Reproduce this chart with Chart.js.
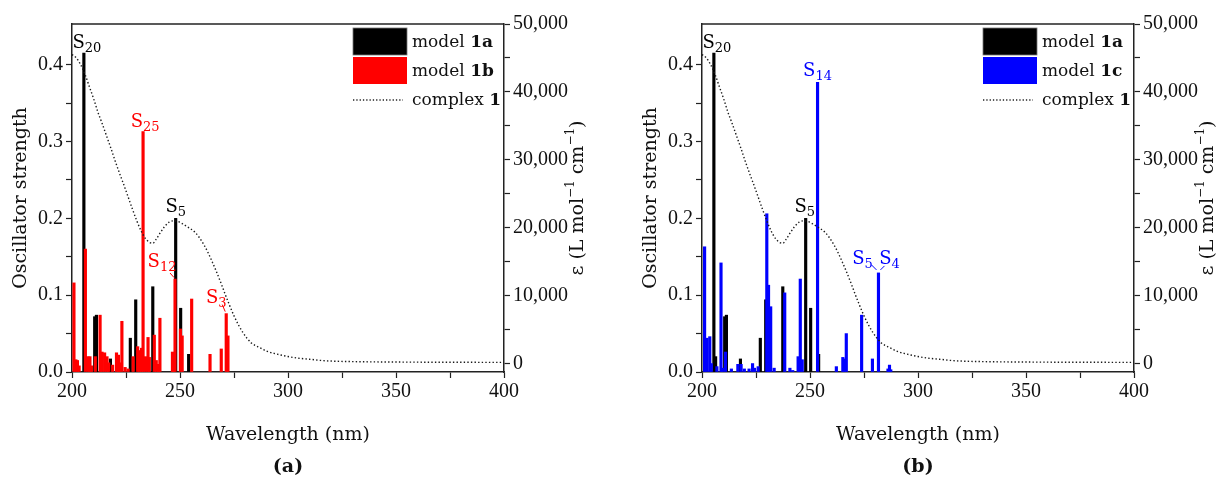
<!DOCTYPE html>
<html>
<head>
<meta charset="utf-8">
<title>Calculated oscillator strengths vs. experimental spectrum</title>
<script src="https://cdn.jsdelivr.net/npm/chart.js@4.4.1/dist/chart.umd.min.js"></script>
<style>
    body { margin: 0; background: #fff; }
    #wrap { position: relative; width: 1218px; height: 480px; overflow: hidden; }
    #wrap canvas { position: absolute; top: 0; }
    #chartA { left: 0; }
    #chartB { left: 630px; }
    .panel { position: absolute; top: 454px; width: 60px; text-align: center; font: bold 19px "DejaVu Serif", serif; color: #111; }
</style>
</head>
<body>
<div id="wrap">
    <canvas id="chartA" width="588" height="480"></canvas>
    <canvas id="chartB" width="588" height="480"></canvas>
    <div class="panel" style="left:258px">(a)</div>
    <div class="panel" style="left:888px">(b)</div>
</div>
<script>
// axis ticks
const wavelengthTicks = [200, 225, 250, 275, 300, 325, 350, 375, 400];
const strengthTicks = [0, 0.05, 0.1, 0.15, 0.2, 0.25, 0.3, 0.35, 0.4];
const epsilonTicks = [0, 5000, 10000, 15000, 20000, 25000, 30000, 35000, 40000, 45000, 50000];

// model 1a (black sticks, both panels)
const model1aNm = [205.5, 206.3, 210.5, 211.3, 217.8, 227.0, 229.5, 237.4, 248.0, 250.3, 254.0];
const model1aF  = [0.415, 0.020, 0.072, 0.074, 0.017, 0.044, 0.094, 0.111, 0.200, 0.083, 0.023];

// model 1b (red sticks, panel a)
const model1bNm = [200.9, 201.8, 202.5, 203.3, 206.2, 207.4, 208.3, 209.0, 210.8, 213.0, 213.9, 215.1,
    216.2, 217.0, 218.8, 220.6, 221.5, 222.1, 223.1, 224.6, 226.0, 228.3, 230.4, 231.2, 232.2, 232.9,
    234.0, 235.2, 235.8, 238.1, 239.0, 240.0, 240.7, 246.5, 247.0, 247.7, 250.2, 251.0, 255.4, 263.9,
    269.1, 271.4, 272.2];
const model1bF  = [0.116, 0.016, 0.015, 0.008, 0.160, 0.020, 0.020, 0.008, 0.020, 0.074, 0.026, 0.025,
    0.020, 0.012, 0.009, 0.025, 0.022, 0.012, 0.066, 0.006, 0.004, 0.020, 0.033, 0.028, 0.031, 0.313,
    0.020, 0.045, 0.019, 0.048, 0.015, 0.010, 0.070, 0.026, 0.025, 0.121, 0.056, 0.047, 0.095, 0.023,
    0.030, 0.076, 0.047];

// model 1c (blue sticks, panel b)
const model1cNm = [201.2, 202.3, 203.6, 204.3, 206.9, 208.8, 209.6, 210.9, 213.6, 216.6, 218.1, 219.6,
    221.8, 223.4, 224.3, 226.0, 230.0, 230.8, 231.8, 233.4, 238.3, 240.7, 242.0, 244.5, 245.5, 246.4,
    253.5, 262.2, 265.2, 265.9, 266.8, 273.9, 278.9, 281.7, 286.1, 286.8, 287.4];
const model1cF  = [0.163, 0.044, 0.046, 0.011, 0.007, 0.142, 0.005, 0.026, 0.004, 0.010, 0.010, 0.004,
    0.004, 0.011, 0.005, 0.007, 0.206, 0.113, 0.085, 0.005, 0.103, 0.005, 0.002, 0.020, 0.121, 0.016,
    0.377, 0.007, 0.019, 0.017, 0.050, 0.074, 0.017, 0.129, 0.004, 0.009, 0.003];

// complex 1, experimental epsilon (dotted)
const complexNm  = [200, 202, 204, 206, 208, 210, 212, 214, 216, 218, 220, 222, 224, 226, 228, 230,
    232, 234, 236, 237.5, 239, 241, 243, 245, 247, 249, 251, 253, 255, 257, 259, 261, 263, 265, 267,
    269, 271, 273, 275, 277, 279, 281, 283, 285, 287, 290, 295, 300, 305, 310, 315, 320, 330, 340,
    360, 380, 400];
const complexEps = [45500, 45000, 44000, 42600, 40800, 39000, 37000, 35300, 33500, 31700, 29800, 28000,
    26300, 24500, 22700, 21000, 19500, 18400, 17800, 17700, 18300, 19300, 20200, 20800, 21000, 20900,
    20600, 20200, 19800, 19300, 18500, 17500, 16300, 14900, 13400, 11800, 10100, 8500, 7000, 5700,
    4600, 3700, 3000, 2600, 2300, 1800, 1350, 1000, 750, 600, 430, 330, 250, 210, 170, 150, 140];

const BLACK = '#000000';
const RED = '#ff0000';
const BLUE = '#0000ff';
const AXIS = '#222222';

function peak(nmArr, fArr, nm) {
    return { x: nm, y: fArr[nmArr.indexOf(nm)] };
}

function sticks(nm, f) {
    return nm.map((x, i) => ({ x: x, y: f[i] }));
}

const annotationsA = [
    { at: peak(model1aNm, model1aF, 205.5), sub: '20', color: BLACK, dx: 3, dy: -5 },
    { at: peak(model1bNm, model1bF, 232.9), sub: '25', color: RED, dx: 2, dy: -5 },
    { at: peak(model1aNm, model1aF, 248.0), sub: '5', color: BLACK, dx: 0, dy: -6 },
    { at: peak(model1bNm, model1bF, 247.7), sub: '12', color: RED, dx: -13, dy: -12, leader: [-5, -6, -1, -1.5] },
    { at: peak(model1bNm, model1bF, 271.4), sub: '3', color: RED, dx: -10, dy: -11, leader: [-4, -9, -1, -2] }
];
const annotationsB = [
    { at: peak(model1aNm, model1aF, 205.5), sub: '20', color: BLACK, dx: 3, dy: -5 },
    { at: peak(model1cNm, model1cF, 253.5), sub: '14', color: BLUE, dx: 0, dy: -6 },
    { at: peak(model1aNm, model1aF, 248.0), sub: '5', color: BLACK, dx: -1, dy: -6 },
    { at: peak(model1cNm, model1cF, 281.7), sub: '5', color: BLUE, dx: -16, dy: -9, leader: [-7, -8, -2, -3] },
    { at: peak(model1cNm, model1cF, 281.7), sub: '4', color: BLUE, dx: 11, dy: -9, leader: [2, -3, 6, -7] }
];

function drawState(ctx, cx, baseY, sub, color) {
    ctx.save();
    ctx.fillStyle = color;
    ctx.textBaseline = 'alphabetic';
    ctx.textAlign = 'left';
    ctx.font = '18px "DejaVu Serif"';
    const wS = ctx.measureText('S').width;
    ctx.font = '13px "DejaVu Serif"';
    const wSub = ctx.measureText(sub).width;
    const x0 = cx - (wS + wSub) / 2;
    ctx.font = '18px "DejaVu Serif"';
    ctx.fillText('S', x0, baseY);
    ctx.font = '13px "DejaVu Serif"';
    ctx.fillText(sub, x0 + wS, baseY + 4);
    ctx.restore();
}

function drawRich(ctx, x, y, parts) {
    // parts: [text, bold]
    let cx = x;
    parts.forEach(p => {
        ctx.font = (p[1] ? 'bold ' : '') + '17px "DejaVu Serif"';
        ctx.fillText(p[0], cx, y);
        cx += ctx.measureText(p[0]).width;
    });
}

function decorPlugin(legendColor, legendBold, annotations) {
    return {
        id: 'decor',
        afterDatasetsDraw(chart) {
            const ctx = chart.ctx;
            const area = chart.chartArea;
            const xs = chart.scales.x;
            const ys = chart.scales.y;

            // top frame line
            ctx.save();
            ctx.strokeStyle = AXIS;
            ctx.lineWidth = 1.5;
            ctx.beginPath();
            ctx.moveTo(area.left, area.top);
            ctx.lineTo(area.right, area.top);
            ctx.stroke();
            ctx.restore();

            // state labels
            annotations.forEach(a => {
                const px = xs.getPixelForValue(a.at.x);
                const py = ys.getPixelForValue(a.at.y);
                drawState(ctx, px + a.dx, py + a.dy, a.sub, a.color);
                if (a.leader) {
                    ctx.save();
                    ctx.strokeStyle = a.color;
                    ctx.lineWidth = 1;
                    ctx.beginPath();
                    ctx.moveTo(px + a.leader[0], py + a.leader[1]);
                    ctx.lineTo(px + a.leader[2], py + a.leader[3]);
                    ctx.stroke();
                    ctx.restore();
                }
            });

            // legend
            const lx = area.right - 151;
            const ly = area.top;
            ctx.save();
            ctx.fillStyle = BLACK;
            ctx.fillRect(lx, ly + 4, 54, 27);
            ctx.strokeStyle = '#777';
            ctx.lineWidth = 0.8;
            ctx.strokeRect(lx, ly + 4, 54, 27);
            ctx.fillStyle = legendColor;
            ctx.fillRect(lx, ly + 33, 54, 27);
            ctx.strokeStyle = '#222';
            ctx.lineWidth = 1.3;
            ctx.setLineDash([1.3, 2]);
            ctx.beginPath();
            ctx.moveTo(lx, ly + 76);
            ctx.lineTo(lx + 50, ly + 76);
            ctx.stroke();
            ctx.setLineDash([]);
            ctx.fillStyle = '#111';
            ctx.textBaseline = 'middle';
            ctx.textAlign = 'left';
            drawRich(ctx, lx + 59, ly + 19, [['model ', false], ['1a', true]]);
            drawRich(ctx, lx + 59, ly + 48, [['model ', false], [legendBold, true]]);
            drawRich(ctx, lx + 59, ly + 77, [['complex ', false], ['1', true]]);
            ctx.restore();

            // right axis title, reading bottom to top
            ctx.save();
            ctx.translate(area.right + 74, (area.top + area.bottom) / 2);
            ctx.rotate(-Math.PI / 2);
            ctx.fillStyle = '#111';
            ctx.textBaseline = 'middle';
            ctx.textAlign = 'left';
            const pieces = [['ε (L mol', false], ['−1', true], [' cm', false], ['−1', true], [')', false]];
            let total = 0;
            pieces.forEach(p => {
                ctx.font = p[1] ? '12px "DejaVu Serif"' : '19px "DejaVu Serif"';
                total += ctx.measureText(p[0]).width;
            });
            let tx = -total / 2;
            pieces.forEach(p => {
                ctx.font = p[1] ? '12px "DejaVu Serif"' : '19px "DejaVu Serif"';
                ctx.fillText(p[0], tx, p[1] ? -7 : 0);
                tx += ctx.measureText(p[0]).width;
            });
            ctx.restore();
        }
    };
}

function makeChart(canvasId, otherNm, otherF, otherColor, otherLabel, annotations) {
    const ctx = document.getElementById(canvasId).getContext('2d');
    const tickFont = { family: 'Liberation Serif', size: 20 };
    const titleFont = { family: 'DejaVu Serif', size: 19 };
    return new Chart(ctx, {
        type: 'bar',
        data: {
            datasets: [
                {
                    type: 'line',
                    label: 'complex 1',
                    data: sticks(complexNm, complexEps),
                    yAxisID: 'y2',
                    borderColor: '#1a1a1a',
                    borderWidth: 1.4,
                    borderDash: [1.4, 2.2],
                    pointRadius: 0,
                    cubicInterpolationMode: 'monotone',
                    order: 0
                },
                {
                    label: otherLabel,
                    data: sticks(otherNm, otherF),
                    backgroundColor: otherColor,
                    barThickness: 2.5,
                    grouped: false,
                    yAxisID: 'y',
                    order: 1
                },
                {
                    label: 'model 1a',
                    data: sticks(model1aNm, model1aF),
                    backgroundColor: BLACK,
                    barThickness: 2.5,
                    grouped: false,
                    yAxisID: 'y',
                    order: 2
                }
            ]
        },
        options: {
            responsive: false,
            animation: false,
            events: [],
            devicePixelRatio: 1,
            layout: { padding: { top: 24, left: 0, right: 0, bottom: 28 } },
            plugins: {
                legend: { display: false },
                tooltip: { enabled: false }
            },
            scales: {
                x: {
                    type: 'linear',
                    position: 'bottom',
                    min: 200,
                    max: 400,
                    bounds: 'data',
                    offset: false,
                    afterBuildTicks: function(scale) {
                        scale.ticks = wavelengthTicks.map(v => ({ value: v }));
                    },
                    afterFit: function(scale) { scale.height = 80; },
                    ticks: {
                        autoSkip: false,
                        maxRotation: 0,
                        padding: 2,
                        color: '#111',
                        font: tickFont,
                        callback: function(value) { return value % 50 === 0 ? String(value) : ''; }
                    },
                    grid: { offset: false, drawOnChartArea: false, drawTicks: true, tickLength: 6, tickColor: AXIS, tickWidth: 1.2 },
                    border: { color: AXIS, width: 1.5 },
                    title: { display: true, text: 'Wavelength (nm)', color: '#111', font: titleFont, padding: { top: 0, bottom: 6 } }
                },
                y: {
                    position: 'left',
                    min: 0,
                    max: 0.453,
                    bounds: 'data',
                    afterBuildTicks: function(scale) {
                        scale.ticks = strengthTicks.map(v => ({ value: v }));
                    },
                    afterFit: function(scale) { scale.width = 72; },
                    ticks: {
                        autoSkip: false,
                        padding: 3,
                        color: '#111',
                        font: tickFont,
                        callback: function(value, index) { return index % 2 === 0 ? value.toFixed(1) : ''; }
                    },
                    grid: { drawOnChartArea: false, drawTicks: true, tickLength: 6, tickColor: AXIS, tickWidth: 1.2 },
                    border: { color: AXIS, width: 1.5 },
                    title: { display: true, text: 'Oscillator strength', color: '#111', font: titleFont, padding: { top: 10, bottom: 0 } }
                },
                y2: {
                    position: 'right',
                    min: -1280,
                    max: 50000,
                    bounds: 'data',
                    afterBuildTicks: function(scale) {
                        scale.ticks = epsilonTicks.map(v => ({ value: v }));
                    },
                    afterFit: function(scale) { scale.width = 84; },
                    ticks: {
                        autoSkip: false,
                        padding: 3,
                        color: '#111',
                        font: tickFont,
                        callback: function(value, index) { return index % 2 === 0 ? value.toLocaleString('en-US') : ''; }
                    },
                    grid: { drawOnChartArea: false, drawTicks: true, tickLength: 6, tickColor: AXIS, tickWidth: 1.2 },
                    border: { color: AXIS, width: 1.5 }
                }
            }
        },
        plugins: [decorPlugin(otherColor, otherLabel.replace('model ', ''), annotations)]
    });
}

makeChart('chartA', model1bNm, model1bF, RED, 'model 1b', annotationsA);
makeChart('chartB', model1cNm, model1cF, BLUE, 'model 1c', annotationsB);
</script>
</body>
</html>
